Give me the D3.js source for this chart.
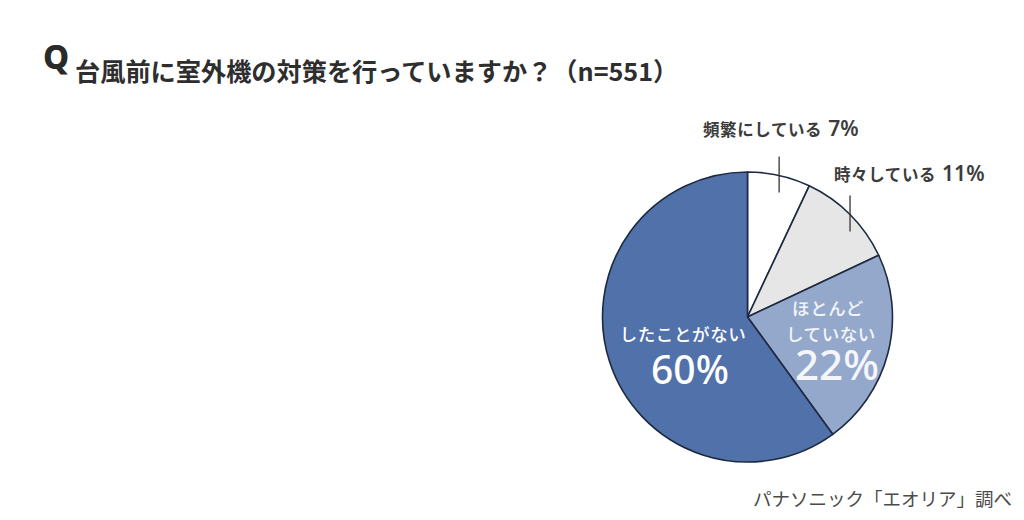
<!DOCTYPE html>
<html><head><meta charset="utf-8">
<script src="https://cdn.jsdelivr.net/npm/d3@7"></script>
<style>
html,body{margin:0;padding:0;background:#fff;}
svg{display:block;font-family:"Noto Sans CJK JP","Noto Sans",sans-serif;}
</style></head>
<body>
<svg id="chart" width="1024" height="520"></svg>
<script>
const categories = ["頻繁にしている", "時々している", "ほとんどしていない", "したことがない"];
const values = [7, 11, 22, 60];
const labelLines = [["頻繁にしている"], ["時々している"], ["ほとんど", "していない"], ["したことがない"]];
const colors = ["#ffffff", "#e6e6e6", "#94a8cc", "#5071a9"];
const title = "台風前に室外機の対策を行っていますか？（n=551）";
const source = "パナソニック「エオリア」調べ";

const svg = d3.select("#chart");
const cx = 747.5, cy = 317, R = 145;

// title
svg.append("text").attr("x", 43).attr("y", 69).attr("font-size", 33).attr("font-weight", 800)
  .attr("font-family", "Noto Sans, sans-serif").attr("fill", "#2a2a2a").text("Q");
svg.append("text").attr("x", 75).attr("y", 81).attr("font-size", 25.2).attr("font-weight", 700)
  .attr("fill", "#2e2e2e").text(title);

const pie = d3.pie().sort(null).value(d => d).startAngle(0).endAngle(2 * Math.PI);
const arcs = pie(values);
const arc = d3.arc().innerRadius(0).outerRadius(R);

const g = svg.append("g").attr("transform", `translate(${cx},${cy})`);
g.selectAll("path").data(arcs).join("path")
  .attr("d", arc)
  .attr("fill", (d, i) => colors[i])
  .attr("stroke", "#1e2a40").attr("stroke-width", 1.6).attr("stroke-linejoin", "round");

// outside labels with leader lines (small slices)
const outside = [
  { i: 0, tx: 703, ty: 136 },
  { i: 1, tx: 834, ty: 181 }
];
outside.forEach(o => {
  const a = arcs[o.i];
  const mid = (a.startAngle + a.endAngle) / 2;
  const x = R * Math.sin(mid), y = -R * Math.cos(mid);
  g.append("line").attr("x1", x).attr("x2", x).attr("y1", y - 19).attr("y2", y + 17)
    .attr("stroke", "#333").attr("stroke-width", 1.3);
  const t = svg.append("text").attr("x", o.tx).attr("y", o.ty).attr("text-anchor", "start")
    .attr("fill", "#3c3c3c");
  t.append("tspan").attr("font-size", 16.5).attr("font-weight", 700).attr("letter-spacing", 0.6)
    .text(labelLines[o.i][0]);
  t.append("tspan").attr("dx", 6).attr("font-size", 21).attr("font-weight", 600)
    .attr("font-family", "Noto Sans, sans-serif").text(values[o.i] + "%");
});

// inside labels
const inside = [
  { i: 2, xs: [828, 831], ys: [315, 341], px: 837, py: 380, fill: "#f4f6fb", pct: 42 },
  { i: 3, xs: [683], ys: [341], px: 690, py: 384, fill: "#ffffff", pct: 39 }
];
inside.forEach(o => {
  labelLines[o.i].forEach((l, k) => {
    svg.append("text").attr("x", o.xs[k]).attr("y", o.ys[k]).attr("text-anchor", "middle")
      .attr("fill", o.fill).attr("font-size", 17.5).attr("font-weight", 500).attr("letter-spacing", 0.6).text(l);
  });
  svg.append("text").attr("x", o.px).attr("y", o.py)
    .attr("text-anchor", "middle").attr("fill", o.fill).attr("font-size", o.pct).attr("font-weight", 500)
    .attr("font-family", "Noto Sans, sans-serif").text(values[o.i] + "%");
});

svg.append("text").attr("x", 1012).attr("y", 506).attr("text-anchor", "end")
  .attr("font-size", 18.5).attr("fill", "#4a4a4a").text(source);
</script>
</body></html>
